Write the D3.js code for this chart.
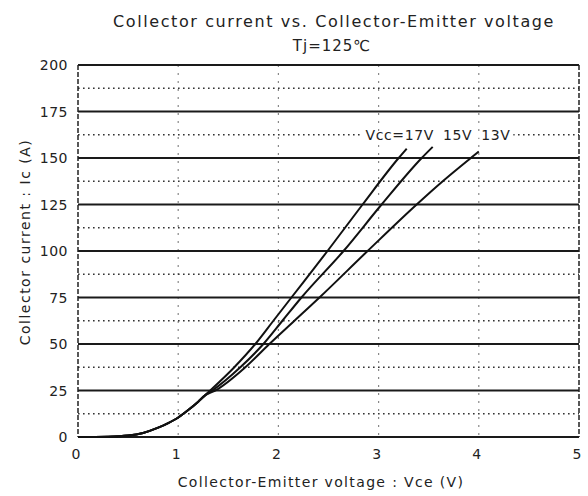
<!DOCTYPE html>
<html>
<head>
<meta charset="utf-8">
<script src="https://cdn.jsdelivr.net/npm/d3@7"></script>
<style>
	body { margin: 0; background: #fff; }
	text { font-family: "DejaVu Sans", sans-serif; fill: #222; }
</style>
</head>
<body>
<div id="graphicContainer"></div>
<script>

// chart text
var chartTitle = "Collector current vs. Collector-Emitter voltage"
var subTitle = "Tj=125\u2103"
var xTitle = "Collector-Emitter voltage : Vce (V)"
var yTitle = "Collector current : Ic (A)"
var curveLabel = "Vcc=17V 15V 13V"

// ticks
var xTicks = [0, 1, 2, 3, 4, 5]
var yTicks = [0, 25, 50, 75, 100, 125, 150, 175, 200]
var yMinor = [12.5, 37.5, 62.5, 87.5, 112.5, 137.5, 162.5, 187.5]

// common low-current part of all three curves
var vceLow = [0, 0.3, 0.5, 0.65, 0.8, 0.9, 1.0, 1.1, 1.2, 1.27]
var icLow  = [0, 0.2, 0.8, 2.2, 5, 7.5, 10.5, 14.5, 19, 22.5]

// Vcc = 17V
var vce17 = [1.32, 1.56, 1.77, 1.95, 2.13, 2.49, 2.84, 3.2, 3.28]
var ic17  = [25, 37.5, 50, 62.5, 75, 100, 125, 150, 155]

// Vcc = 15V
var vce15 = [1.34, 1.62, 1.85, 2.04, 2.23, 2.65, 3.03, 3.43, 3.54]
var ic15  = [25, 37.5, 50, 62.5, 75, 100, 125, 150, 156]

// Vcc = 13V
var vce13 = [1.37, 1.67, 1.91, 2.16, 2.41, 2.89, 3.38, 3.64, 3.92, 4.0]
var ic13  = [25, 37.5, 50, 62.5, 75, 100, 125, 137.5, 150, 153.5]

function init() {

	var width = 588
	var height = 496
	var margin = {top: 65, right: 9, bottom: 59, left: 78}

	var svg = d3.select("#graphicContainer").append("svg")
		.attr("width", width)
		.attr("height", height)

	var x = d3.scaleLinear()
		.domain([0, 5])
		.range([margin.left, width - margin.right])

	var y = d3.scaleLinear()
		.domain([0, 200])
		.range([height - margin.bottom, margin.top])

	// vertical dotted grid
	svg.selectAll(".vgrid")
		.data(xTicks.slice(1, -1))
		.enter()
		.append("line")
		.attr("x1", d => x(d))
		.attr("x2", d => x(d))
		.attr("y1", y(200))
		.attr("y2", y(0))
		.attr("stroke", "#888")
		.attr("stroke-width", 1.2)
		.attr("stroke-dasharray", "2,6")

	// minor dotted horizontal grid
	svg.selectAll(".hminor")
		.data(yMinor)
		.enter()
		.append("line")
		.attr("x1", x(0))
		.attr("x2", x(5))
		.attr("y1", d => y(d))
		.attr("y2", d => y(d))
		.attr("stroke", "#333")
		.attr("stroke-width", 1.6)
		.attr("stroke-dasharray", "1.6,3.4")

	// major solid horizontal grid
	svg.selectAll(".hmajor")
		.data(yTicks)
		.enter()
		.append("line")
		.attr("x1", x(0))
		.attr("x2", x(5))
		.attr("y1", d => y(d))
		.attr("y2", d => y(d))
		.attr("stroke", "#1a1a1a")
		.attr("stroke-width", 2)

	// left / right frame (dashed look)
	svg.selectAll(".vframe")
		.data([0, 5])
		.enter()
		.append("line")
		.attr("x1", d => x(d))
		.attr("x2", d => x(d))
		.attr("y1", y(200))
		.attr("y2", y(0))
		.attr("stroke", "#222")
		.attr("stroke-width", 1.5)
		.attr("stroke-dasharray", "5,2")

	// label on the 162.5 dotted line
	var lab = svg.append("text")
		.attr("x", x(2.87))
		.attr("y", y(162.5))
		.attr("dy", "0.36em")
		.attr("font-size", 14)
		.attr("letter-spacing", 0.6)
		.attr("word-spacing", 4)
		.text(curveLabel)

	var bb = lab.node().getBBox()
	svg.insert("rect", "text")
		.attr("x", bb.x - 3)
		.attr("y", y(162.5) - 3)
		.attr("width", bb.width + 6)
		.attr("height", 6)
		.attr("fill", "#fff")

	// curves
	var series = [
		{v: vceLow.concat(vce17), i: icLow.concat(ic17)},
		{v: vceLow.concat(vce15), i: icLow.concat(ic15)},
		{v: vceLow.concat(vce13), i: icLow.concat(ic13)}
	]

	var line = d3.line()
		.x(d => x(d[0]))
		.y(d => y(d[1]))
		.curve(d3.curveMonotoneX)

	series.forEach(function (s) {
		svg.append("path")
			.datum(s.v.map((v, k) => [v, s.i[k]]))
			.attr("d", line)
			.attr("fill", "none")
			.attr("stroke", "#111")
			.attr("stroke-width", 2)
	})

	// tick labels
	svg.selectAll(".ylab")
		.data(yTicks)
		.enter()
		.append("text")
		.attr("x", x(0) - 10)
		.attr("y", d => y(d))
		.attr("dy", "0.36em")
		.attr("text-anchor", "end")
		.attr("font-size", 14)
		.attr("letter-spacing", 0.5)
		.text(d => d)

	svg.selectAll(".xlab")
		.data(xTicks)
		.enter()
		.append("text")
		.attr("x", d => x(d) - 2)
		.attr("y", y(0) + 22)
		.attr("text-anchor", "middle")
		.attr("font-size", 14)
		.text(d => d)

	// titles
	svg.append("text")
		.attr("x", 334)
		.attr("y", 27)
		.attr("text-anchor", "middle")
		.attr("font-size", 16)
		.attr("letter-spacing", 1.6)
		.text(chartTitle)

	svg.append("text")
		.attr("x", 332)
		.attr("y", 51)
		.attr("text-anchor", "middle")
		.attr("font-size", 15)
		.attr("letter-spacing", 1)
		.text(subTitle)

	svg.append("text")
		.attr("x", 321)
		.attr("y", 487)
		.attr("text-anchor", "middle")
		.attr("font-size", 14)
		.attr("letter-spacing", 1.35)
		.text(xTitle)

	svg.append("text")
		.attr("transform", "translate(30,242) rotate(-90)")
		.attr("text-anchor", "middle")
		.attr("font-size", 14)
		.attr("letter-spacing", 1.5)
		.text(yTitle)
}

init()

</script>
</body>
</html>
